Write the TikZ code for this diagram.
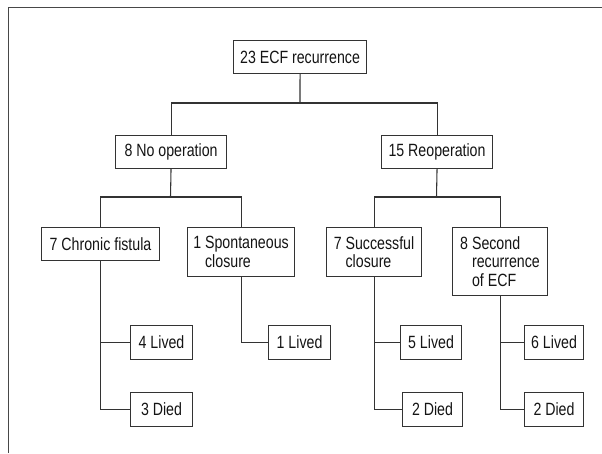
\documentclass[tikz,border=0pt]{standalone}
\usepackage{fontspec}
\setmainfont{Liberation Sans}[FakeStretch=0.8]
\begin{document}
\begin{tikzpicture}[x=0.75pt,y=-0.75pt,
  bx/.style={draw=black!80, line width=0.8pt, anchor=north west, inner sep=1pt,
    align=left, text=black!92, font=\fontsize{13.3}{14}\selectfont},
  ln/.style={draw=black!80, line width=0.8pt},
  frame/.style={draw=black!72, line width=1.3pt}]
\useasboundingbox (0,0) rectangle (602,453);
\draw[frame] (8.5,453) -- (8.5,7.5) -- (602,7.5);
% nodes
\node[bx, minimum width=99.75pt, minimum height=24.75pt] (top) at (233,40) {23 ECF recurrence};
\node[bx, minimum width=83.25pt, minimum height=24.75pt] (nop) at (115,135) {8 No operation};
\node[bx, minimum width=83.25pt, minimum height=24.75pt] (reop) at (381,135) {15 Reoperation};
\node[bx, minimum width=88.5pt, minimum height=24.75pt] (chr) at (41,227) {7 Chronic fistula};
\node[bx, minimum width=80.25pt, minimum height=36.75pt] (spo) at (187,227) {1 Spontaneous\\\phantom{1 }closure};
\node[bx, minimum width=71.25pt, minimum height=36.75pt] (suc) at (326,227) {7 Successful\\\phantom{7 }closure};
\node[bx, minimum width=71.25pt, minimum height=51pt] (sec) at (452,227) {8 Second\\\phantom{8 }recurrence\\\phantom{8 }of ECF};
\node[bx, minimum width=46.5pt, minimum height=25.5pt] (l4) at (130,325) {4 Lived};
\node[bx, minimum width=46.5pt, minimum height=25.5pt] (d3) at (130,392) {3 Died};
\node[bx, minimum width=46.5pt, minimum height=25.5pt] (l1) at (268,325) {1 Lived};
\node[bx, minimum width=45.75pt, minimum height=25.5pt] (l5) at (400,325) {5 Lived};
\node[bx, minimum width=45pt, minimum height=25.5pt] (d2a) at (402,392) {2 Died};
\node[bx, minimum width=44.25pt, minimum height=25.5pt] (l6) at (524,325) {6 Lived};
\node[bx, minimum width=44.25pt, minimum height=25.5pt] (d2b) at (524,392) {2 Died};
% junctions
\coordinate (j1) at (300,103);
\coordinate (j2) at (170.5,197);
\coordinate (j3) at (436.5,197);
% connectors
\draw[ln] (top.south) -- (j1);
\draw[ln] (j1) -| (nop.north);
\draw[ln] (j1) -| (reop.north);
\draw[ln] (nop.south) -- (j2);
\draw[ln] (j2) -| (chr.north);
\draw[ln] (j2) -| (spo.north);
\draw[ln] (reop.south) -- (j3);
\draw[ln] (j3) -| (suc.north);
\draw[ln] (j3) -| (sec.north);
\draw[ln] (chr.south) |- (l4.west);
\draw[ln] (chr.south) |- (d3.west);
\draw[ln] (spo.south) |- (l1.west);
\draw[ln] (suc.south) |- (l5.west);
\draw[ln] (suc.south) |- (d2a.west);
\draw[ln] (sec.south) |- (l6.west);
\draw[ln] (sec.south) |- (d2b.west);
\end{tikzpicture}
\end{document}
